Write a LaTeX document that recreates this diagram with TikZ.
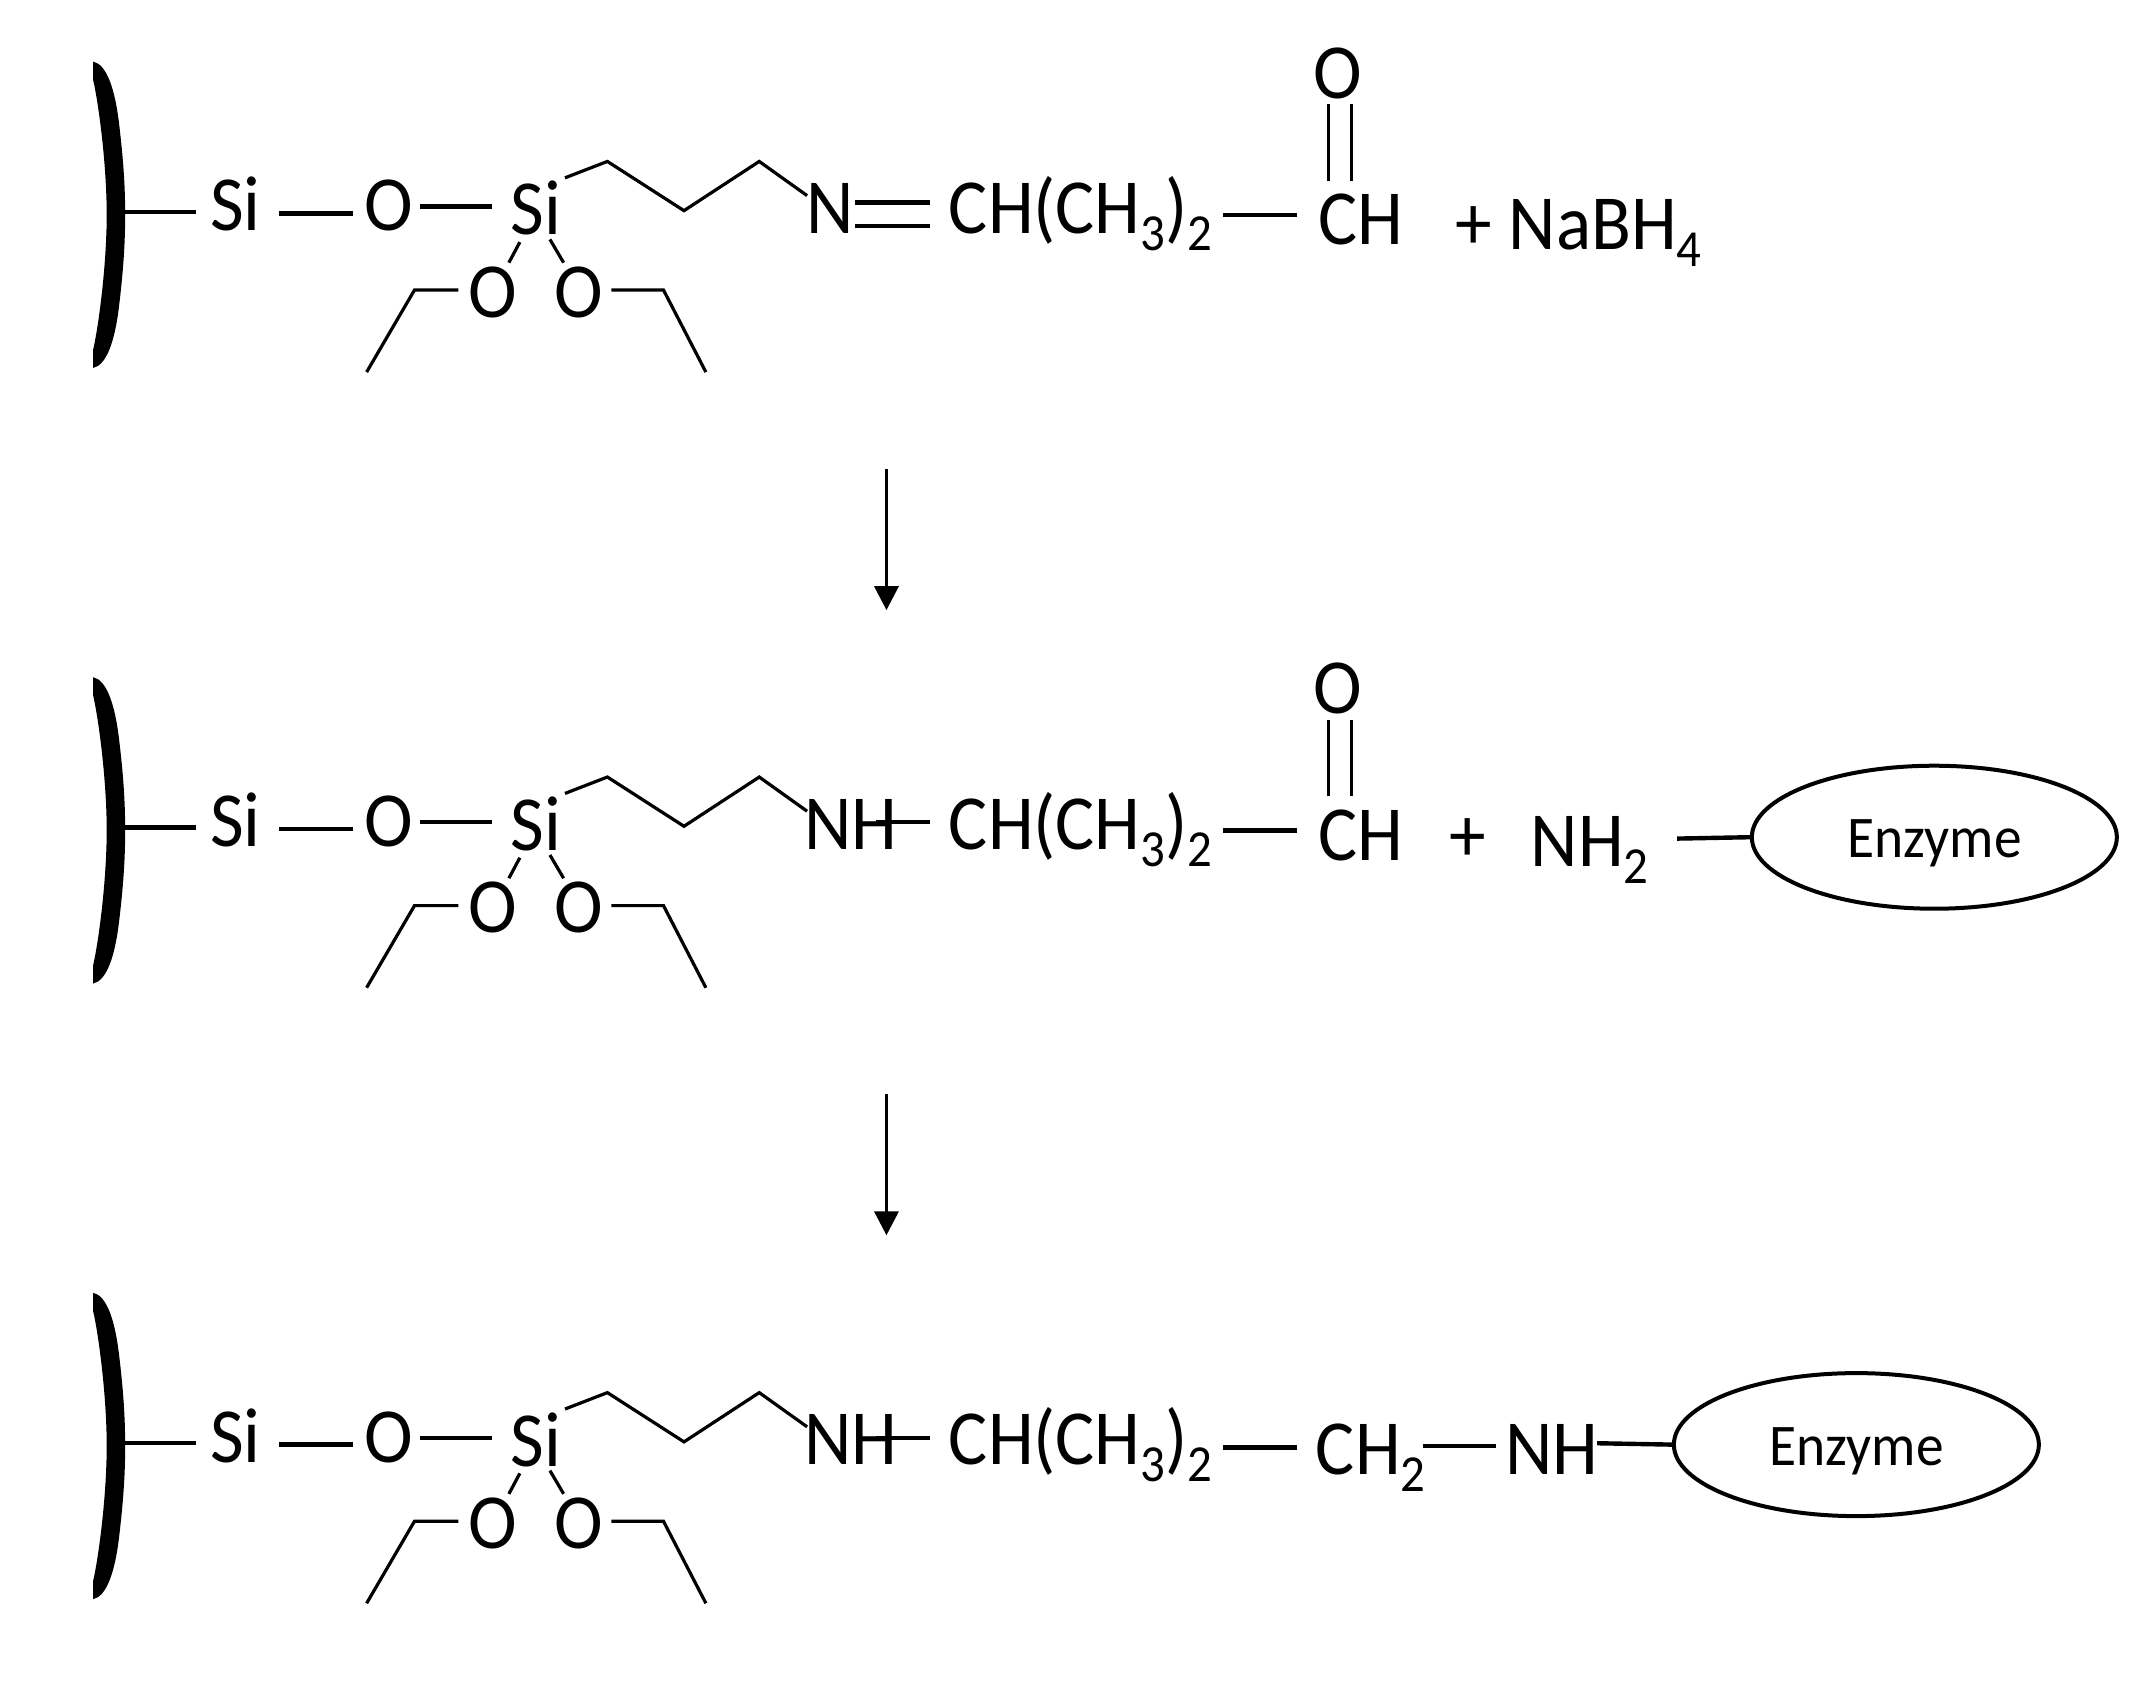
\documentclass[tikz,border=0pt]{standalone}
\usepackage{fontspec}
\setmainfont[FakeStretch=0.94]{Carlito}
\usetikzlibrary{shapes.geometric,arrows.meta}
\newcommand{\sbs}[1]{\raisebox{-17pt}{\fontsize{52}{52}\selectfont #1}}
\tikzset{
  chem/.style={inner sep=0pt,outer sep=0pt,font=\fontsize{78}{78}\selectfont,text height=54pt,text depth=0pt,text=black},
  bond/.style={draw=black,line width=4.4pt},
  thinbond/.style={draw=black,line width=3.2pt,line join=miter},
  flask/.style={fill=black,draw=none},
  enz/.style={ellipse,draw=black,line width=4pt,inner sep=0pt,minimum width=365pt,minimum height=143pt,font=\fontsize{59}{59}\selectfont,text height=41pt,text depth=0pt,text=black},
  rarrow/.style={draw=black,line width=3.6pt,-{Triangle[length=24pt,width=24pt]}}
}
\begin{document}
\begin{tikzpicture}[x=1.36798pt,y=-1.36798pt]
\useasboundingbox (0,0) rectangle (1568,1234.7);
\foreach \r/\d in {1/0,2/450,3/900}{
\begin{scope}[shift={(0,\d)}]
  \fill[flask] (68,45) .. controls (78,47) and (84,65) .. (87,90)
     .. controls (90,115) and (91.5,135) .. (91.5,157)
     .. controls (91.5,179) and (90,199) .. (87,224)
     .. controls (84,249) and (78,267) .. (68,269) -- (68,256)
     .. controls (72,239) and (78,194) .. (78,157)
     .. controls (78,120) and (72,75) .. (68,58) -- cycle;
  \coordinate (surf\r) at (90,155);
  \node[chem] (sia\r) at (172,149) {Si};
  \node[chem] (oa\r) at (284,149) {O};
  \node[chem] (sib\r) at (392,152) {Si};
  \node[chem] (ol\r) at (360,212) {O};
  \node[chem] (or\r) at (423,212) {O};
  \coordinate (el\r) at (268,272);
  \coordinate (er\r) at (516,272);
  \node[chem] (ch\r) at (790,151) {CH(CH\sbs{3})\sbs{2}};
  \draw[bond] (surf\r) -- ([shift={(-29,6)}]sia\r.center);
  \draw[bond] ([shift={(32,7)}]sia\r.center) -- ([shift={(-26,7)}]oa\r.center);
  \draw[bond] ([shift={(23,2)}]oa\r.center) -- ([shift={(-32,-1)}]sib\r.center);
  \draw[thinbond] ([shift={(-12,25)}]sib\r.center) -- ([shift={(12,-20)}]ol\r.center);
  \draw[thinbond] ([shift={(10,23)}]sib\r.center) -- ([shift={(-11,-20)}]or\r.center);
  \draw[thinbond] ([shift={(-25,0)}]ol\r.center) -- (303,212) -- (el\r);
  \draw[thinbond] ([shift={(24,0)}]or\r.center) -- (485,212) -- (er\r);
\end{scope}
}
% row 1
\node[chem] (n1) at (607,151) {N};
\node[chem] (cho1) at (995,159) {CH};
\node[chem] (ot1) at (978,52) {O};
\node[chem] (nabh) at (1154,163) {+ NaBH\sbs{4}};
\draw[thinbond] ([shift={(21,-22)}]sib1.center) -- (444,118) -- (500,154) -- (555,118) -- ([shift={(-17,-8)}]n1.center);
\draw[bond] ([shift={(18,-3)}]n1.center) -- ([shift={(-110,-3)}]ch1.center);
\draw[bond] ([shift={(18,14)}]n1.center) -- ([shift={(-110,14)}]ch1.center);
\draw[bond] ([shift={(104,6)}]ch1.center) -- ([shift={(-47,-2)}]cho1.center);
\draw[thinbond] ([shift={(-7,-27)}]ot1.center |- cho1.center) -- ([shift={(-7,24)}]ot1.center);
\draw[thinbond] ([shift={(10,-27)}]ot1.center |- cho1.center) -- ([shift={(10,24)}]ot1.center);
\coordinate (a1s) at (648,343);
\coordinate (a1e) at (648,446);
\draw[rarrow] (a1s) -- (a1e);
% row 2
\begin{scope}[shift={(0,450)}]
  \node[chem] (n2) at (622,151) {NH};
  \node[chem] (cho2) at (995,159) {CH};
  \node[chem] (ot2) at (978,52) {O};
  \node[chem] (plus2) at (1073,160) {+};
  \node[chem] (nh2) at (1162,164) {NH\sbs{2}};
  \node[enz] (enz2) at (1414,162) {Enzyme};
  \draw[thinbond] ([shift={(21,-22)}]sib2.center) -- (444,118) -- (500,154) -- (555,118) -- ([shift={(-32,-8)}]n2.center);
  \draw[bond] ([shift={(18,0)}]n2.center) -- ([shift={(-110,0)}]ch2.center);
  \draw[bond] ([shift={(104,6)}]ch2.center) -- ([shift={(-47,-2)}]cho2.center);
  \draw[thinbond] ([shift={(-7,-27)}]ot2.center |- cho2.center) -- ([shift={(-7,24)}]ot2.center);
  \draw[thinbond] ([shift={(10,-27)}]ot2.center |- cho2.center) -- ([shift={(10,24)}]ot2.center);
  \draw[bond] ([shift={(64,-1)}]nh2.center) -- (enz2.west);
\end{scope}
\coordinate (a2s) at (648,800);
\coordinate (a2e) at (648,903);
\draw[rarrow] (a2s) -- (a2e);
% row 3
\begin{scope}[shift={(0,900)}]
  \node[chem] (n3) at (622,151) {NH};
  \node[chem] (ch23) at (1002,158) {CH\sbs{2}};
  \node[chem] (nh3) at (1134.5,158) {NH};
  \node[enz] (enz3) at (1357,156) {Enzyme};
  \draw[thinbond] ([shift={(21,-22)}]sib3.center) -- (444,118) -- (500,154) -- (555,118) -- ([shift={(-32,-8)}]n3.center);
  \draw[bond] ([shift={(18,0)}]n3.center) -- ([shift={(-110,0)}]ch3.center);
  \draw[bond] ([shift={(104,7)}]ch3.center) -- ([shift={(-54,0)}]ch23.center);
  \draw[bond] ([shift={(38,-1)}]ch23.center) -- ([shift={(-41,-1)}]nh3.center);
  \draw[bond] ([shift={(33,-3)}]nh3.center) -- (enz3.west);
\end{scope}
\end{tikzpicture}
\end{document}
